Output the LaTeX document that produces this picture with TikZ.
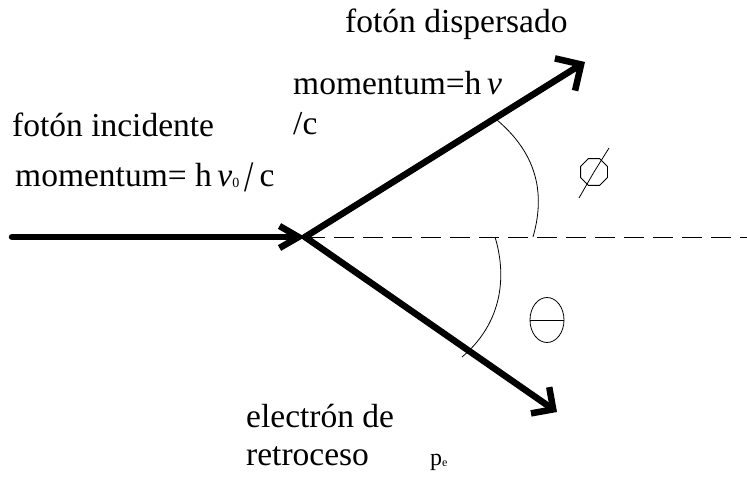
\documentclass[tikz,border=0pt]{standalone}
\usepackage{fontspec}
\setmainfont{Liberation Serif}
\usetikzlibrary{arrows.meta, positioning, shapes.geometric}

\begin{document}
\begin{tikzpicture}[
  x=1pt, y=-1pt,
  every node/.style={font=\fontsize{33.5}{40}\selectfont, inner sep=0pt},
  lbl/.style={anchor=base west},
  photon/.style={line width=6.5pt, line cap=round},
  guide/.style={line width=0.8pt},
  sym/.style={draw, line width=0.8pt, inner sep=0pt}
]
\useasboundingbox (0,0) rectangle (747,478);

% Collision point and ends
\coordinate (hit) at (305,237);
\coordinate (start) at (12,237);
\coordinate (scat) at (585,62);
\coordinate (rec) at (557,412);
\coordinate (axisend) at (747,237);

% Labels
\node[lbl] (disp) at (345,33) {fotón dispersado};
\node[lbl] (inc) at (12,137) {fotón incidente};
\node[lbl] (pscat) at (293,95) {momentum=h\,\textit{ν}};
\node[lbl] (pscatc) at (293,135) {/c};
\node[lbl] (pinc) at (15,187) {momentum= h\,\textit{ν}\raisebox{-1pt}{\fontsize{14}{16}\selectfont 0}\,\raisebox{-5pt}{\scalebox{1}[1.3]{/}}\,c};
\node[lbl] (elec) at (246,427) {electrón de};
\node[lbl] (retro) at (246,465) {retroceso};
\node[lbl, font=\fontsize{24}{28}\selectfont] (pe) at (430,465) {p\raisebox{-1pt}{\fontsize{12}{14}\selectfont e}};

% Angle symbols
\node[sym, regular polygon, regular polygon sides=8, minimum size=29pt] (phi) at (594,172) {};
\draw[guide] (579,198) -- (phi.center) -- (609,148);
\node[sym, ellipse, minimum width=34pt, minimum height=45pt] (theta) at (547,320) {};
\draw[guide] (theta.west) -- (theta.east);

% Axis and angle arcs
\draw[guide, dash pattern=on 20pt off 9pt] (hit) -- (axisend);
\draw[guide] (497,120) .. controls (530,148) and (548,185) .. (533,237);
\draw[guide] (495,237) .. controls (508,280) and (500,325) .. (462,357);

% Arrows
\draw[photon, -{Straight Barb[length=19pt, width=22pt]}] (start) -- (hit);
\draw[photon, -{Straight Barb[length=19pt, width=38pt]}] (hit) -- (scat);
\draw[photon, -{Straight Barb[length=16pt, width=32pt]}] (hit) -- (rec);
\end{tikzpicture}
\end{document}
